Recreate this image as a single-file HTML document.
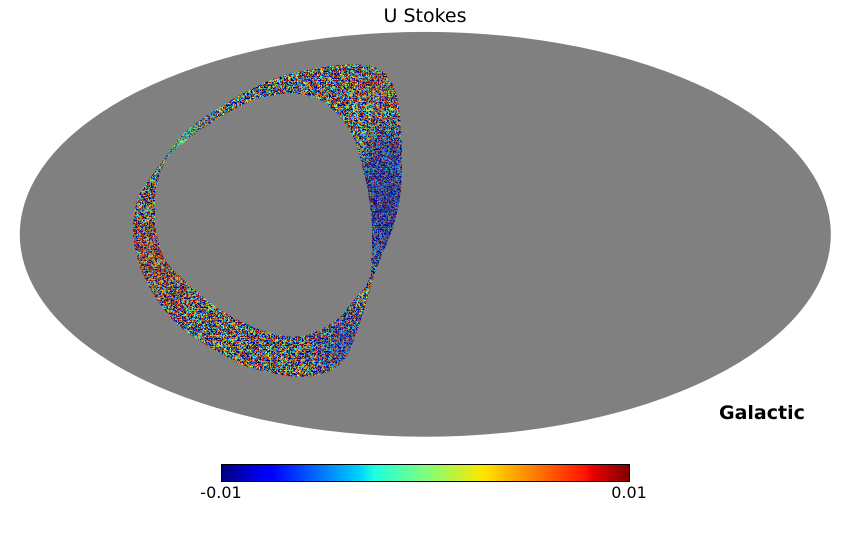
<!DOCTYPE html>
<html><head><meta charset="utf-8"><style>
html,body{margin:0;padding:0;background:#fff;}
svg{display:block;}
text{font-family:"DejaVu Sans","Liberation Sans",sans-serif;}
</style></head><body>
<svg width="850" height="540" viewBox="0 0 850 540" xmlns="http://www.w3.org/2000/svg">
<defs>
<clipPath id="ring">
<path clip-rule="evenodd" d="M163,160 L175,143 L187,130 L203,118 L220,107 L240,95 L263,83 L285,75 L307,70 L330,66 L353,64 L373,66 L385,73 L393,85 L398,100 L400,117 L402,140 L402,167 L401,190 L398,210 L393,228 L387,243 L382,255 L377,267 L372,282 L368,297 L364,310 L360,323 L355,337 L350,350 L344,360 L337,367 L326,373 L313,376 L300,377 L287,376 L267,372 L247,367 L225,356 L203,343 L185,331 L170,317 L157,300 L147,283 L140,267 L135,250 L133,236 L133,223 L135,210 L137,200 L141,191 L147,183 L155,171 Z
M167,158 L160,173 L157,185 L155,197 L155,210 L155,223 L158,240 L163,257 L173,270 L187,283 L203,297 L220,310 L240,321 L260,330 L277,335 L293,337 L307,335 L320,330 L330,324 L340,317 L350,305 L360,293 L366,286 L370,277 L371,265 L372,250 L372,237 L372,223 L370,207 L368,190 L364,173 L360,157 L356,143 L350,130 L342,119 L333,110 L325,102 L313,97 L300,94 L287,93 L270,96 L253,100 L237,108 L220,117 L203,128 L187,140 L177,148 Z"/>
</clipPath>
<filter id="noise" x="125" y="55" width="285" height="330" filterUnits="userSpaceOnUse" color-interpolation-filters="sRGB">
<feTurbulence type="fractalNoise" baseFrequency="0.45" numOctaves="2" seed="7" result="t"/>
<feColorMatrix in="t" type="matrix" values="1 0 0 0 0  1 0 0 0 0  1 0 0 0 0  0 0 0 0 1"/>
<feComponentTransfer>
<feFuncR type="linear" slope="4.2" intercept="-1.6"/>
<feFuncG type="linear" slope="4.2" intercept="-1.6"/>
<feFuncB type="linear" slope="4.2" intercept="-1.6"/>
</feComponentTransfer>
<feComponentTransfer>
<feFuncR type="table" tableValues="0 0 0 0 0.48 0.89 1 1 0.5"/>
<feFuncG type="table" tableValues="0 0 0.5 1 1 1 0.59 0.13 0"/>
<feFuncB type="table" tableValues="0.5 1 1 1 0.48 0.08 0 0 0"/>
</feComponentTransfer>
</filter>
<linearGradient id="jet" x1="0" y1="0" x2="1" y2="0">
<stop offset="0" stop-color="#00007f"/>
<stop offset="0.11" stop-color="#0000ff"/>
<stop offset="0.125" stop-color="#0000ff"/>
<stop offset="0.34" stop-color="#00d4ff"/>
<stop offset="0.375" stop-color="#1fffe0"/>
<stop offset="0.5" stop-color="#7dff7a"/>
<stop offset="0.64" stop-color="#ffe600"/>
<stop offset="0.66" stop-color="#ffd700"/>
<stop offset="0.89" stop-color="#ff1400"/>
<stop offset="0.91" stop-color="#e80000"/>
<stop offset="1" stop-color="#7f0000"/>
</linearGradient>
<radialGradient id="gBlue" gradientUnits="userSpaceOnUse" cx="388" cy="205" r="95" gradientTransform="translate(388 205) scale(0.5 1) translate(-388 -205)">
<stop offset="0" stop-color="#0010b0" stop-opacity="0.5"/>
<stop offset="0.6" stop-color="#0010b0" stop-opacity="0.35"/>
<stop offset="1" stop-color="#0010b0" stop-opacity="0"/>
</radialGradient>
<radialGradient id="gBlue2" gradientUnits="userSpaceOnUse" cx="345" cy="345" r="55">
<stop offset="0" stop-color="#0020d0" stop-opacity="0.35"/>
<stop offset="1" stop-color="#0020d0" stop-opacity="0"/>
</radialGradient>
<radialGradient id="gRed" gradientUnits="userSpaceOnUse" cx="155" cy="260" r="75">
<stop offset="0" stop-color="#d02000" stop-opacity="0.28"/>
<stop offset="1" stop-color="#d02000" stop-opacity="0"/>
</radialGradient>
<radialGradient id="gCyan" gradientUnits="userSpaceOnUse" cx="180" cy="140" r="55">
<stop offset="0" stop-color="#40ffb0" stop-opacity="0.4"/>
<stop offset="1" stop-color="#40ffb0" stop-opacity="0"/>
</radialGradient>
<radialGradient id="gOr" gradientUnits="userSpaceOnUse" cx="375" cy="85" r="40">
<stop offset="0" stop-color="#e04000" stop-opacity="0.2"/>
<stop offset="1" stop-color="#e04000" stop-opacity="0"/>
</radialGradient>
</defs>

<text x="425" y="22" font-size="19" text-anchor="middle" fill="#000">U Stokes</text>

<ellipse cx="425.3" cy="234.3" rx="405.5" ry="202.4" fill="#808080"/>

<g clip-path="url(#ring)">
<rect x="125" y="55" width="285" height="330" fill="#000" filter="url(#noise)"/>
<rect x="125" y="55" width="285" height="330" fill="url(#gBlue)"/>
<rect x="125" y="55" width="285" height="330" fill="url(#gBlue2)"/>
<rect x="125" y="55" width="285" height="330" fill="url(#gRed)"/>
<rect x="125" y="55" width="285" height="330" fill="url(#gCyan)"/>
<rect x="125" y="55" width="285" height="330" fill="url(#gOr)"/>
</g>

<text x="719" y="419" font-size="19" font-weight="bold" fill="#000">Galactic</text>

<rect x="221.5" y="464.5" width="408" height="17" fill="url(#jet)" stroke="#000" stroke-width="1"/>
<text x="221" y="498" font-size="16" text-anchor="middle" fill="#000">-0.01</text>
<text x="629" y="498" font-size="16" text-anchor="middle" fill="#000">0.01</text>
</svg>
</body></html>
